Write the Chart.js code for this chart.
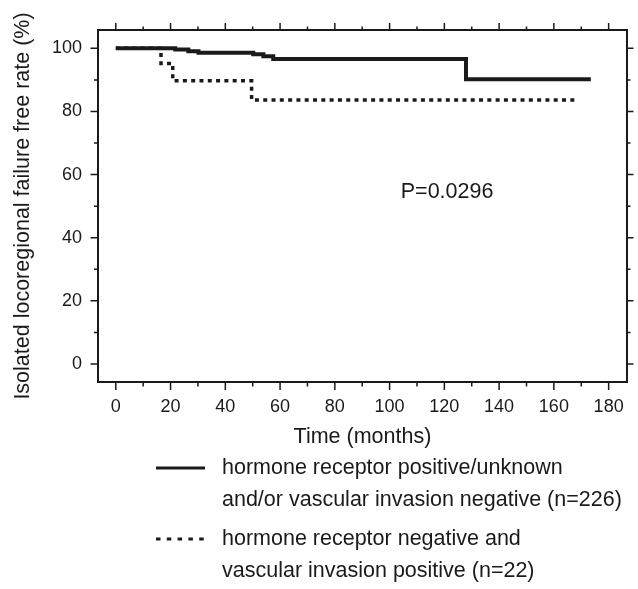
<!DOCTYPE html>
<html>
<head>
<meta charset="utf-8">
<script src="https://cdn.jsdelivr.net/npm/chart.js@4.4.1/dist/chart.umd.min.js"></script>
<style>
    html, body { margin: 0; padding: 0; background: #fff; }
    #wrap { width: 638px; height: 589px; }
</style>
</head>
<body>
<div id="wrap"><canvas id="km" width="638" height="589"></canvas></div>
<script>
// Kaplan-Meier curves (months, %)
const posTimes = [0, 21.7, 26.5, 30.2, 50.2, 53.9, 57.5, 127.9, 173.5];
const posRates = [100, 99.6, 99.1, 98.6, 98.1, 97.5, 96.6, 90.2, 90.2];
const negTimes = [0, 16.5, 20.8, 49.6, 168];
const negRates = [100, 95.2, 89.7, 83.6, 83.6];

const xTicks = [0, 20, 40, 60, 80, 100, 120, 140, 160, 180];
const yTicks = [0, 20, 40, 60, 80, 100];

const posLabel = ['hormone receptor positive/unknown', 'and/or vascular invasion negative (n=226)'];
const negLabel = ['hormone receptor negative and', 'vascular invasion positive (n=22)'];
const pValueText = 'P=0.0296';
const pValueAt = { x: 121, y: 54.5 };

const ink = '#1a1a1a';
const fontFamily = "'Liberation Sans', Arial, Helvetica, sans-serif";
const tickSize = 18;
const textSize = 21.5;

function toPoints(times, rates) {
    return times.map((t, i) => ({ x: t, y: rates[i] }));
}

/**
 * Frame box plus major/minor tick marks on all four sides
 */
const frameTicks = {
    id: 'frameTicks',
    afterDraw(chart) {
        const { ctx, chartArea: a, scales: { x, y } } = chart;
        ctx.save();
        ctx.strokeStyle = ink;
        ctx.lineWidth = 2;
        ctx.strokeRect(a.left, a.top, a.right - a.left, a.bottom - a.top);

        ctx.lineWidth = 1.5;
        ctx.beginPath();
        const xStep = (xTicks[1] - xTicks[0]) / 2;
        for (let v = xTicks[0]; v <= xTicks[xTicks.length - 1]; v += xStep) {
            const px = x.getPixelForValue(v);
            const major = xTicks.includes(v);
            ctx.moveTo(px, a.bottom);
            ctx.lineTo(px, a.bottom + (major ? 8 : 4.5));
            ctx.moveTo(px, a.top);
            ctx.lineTo(px, a.top - (major ? 7 : 3.5));
        }
        const yStep = (yTicks[1] - yTicks[0]) / 2;
        for (let v = yTicks[0]; v <= yTicks[yTicks.length - 1]; v += yStep) {
            const py = y.getPixelForValue(v);
            const major = yTicks.includes(v);
            ctx.moveTo(a.left, py);
            ctx.lineTo(a.left - (major ? 7.5 : 4), py);
            ctx.moveTo(a.right, py);
            ctx.lineTo(a.right + (major ? 6.5 : 3.5), py);
        }
        ctx.stroke();

        // p-value annotation
        ctx.fillStyle = ink;
        ctx.font = textSize + 'px ' + fontFamily;
        ctx.textAlign = 'center';
        ctx.textBaseline = 'middle';
        ctx.fillText(pValueText, x.getPixelForValue(pValueAt.x), y.getPixelForValue(pValueAt.y));
        ctx.restore();
    }
};

/**
 * Two-line legend entries under the x axis title
 */
const stackedLegend = {
    id: 'stackedLegend',
    afterDraw(chart) {
        const { ctx } = chart;
        const rows = [468, 539];
        const lineGap = 32;
        ctx.save();
        ctx.font = textSize + 'px ' + fontFamily;
        ctx.textAlign = 'left';
        ctx.textBaseline = 'middle';
        chart.data.datasets.forEach((ds, i) => {
            const cy = rows[i];
            ctx.strokeStyle = ds.borderColor;
            ctx.lineWidth = 3.2;
            ctx.lineCap = 'butt';
            ctx.setLineDash(ds.legendDash || []);
            ctx.beginPath();
            ctx.moveTo(156, cy);
            ctx.lineTo(205, cy);
            ctx.stroke();
            ctx.setLineDash([]);
            ctx.fillStyle = ink;
            ds.legendLines.forEach((txt, j) => ctx.fillText(txt, 222, cy + j * lineGap));
        });
        ctx.restore();
    }
};

new Chart(document.getElementById('km'), {
    type: 'line',
    data: {
        datasets: [
            {
                label: posLabel.join(' '),
                legendLines: posLabel,
                data: toPoints(posTimes, posRates),
                borderColor: ink,
                borderWidth: 4,
                stepped: 'before',
                pointRadius: 0,
                fill: false
            },
            {
                label: negLabel.join(' '),
                legendLines: negLabel,
                legendDash: [4.5, 6.3],
                data: toPoints(negTimes, negRates),
                borderColor: ink,
                borderWidth: 3.5,
                borderDash: [4, 4.3],
                borderCapStyle: 'butt',
                stepped: 'before',
                pointRadius: 0,
                fill: false
            }
        ]
    },
    options: {
        responsive: false,
        animation: false,
        devicePixelRatio: 1,
        layout: { padding: { top: 30, right: 10, left: 0, bottom: 139 } },
        plugins: {
            legend: { display: false },
            tooltip: { enabled: false }
        },
        scales: {
            x: {
                type: 'linear',
                min: -6.5,
                max: 186.7,
                afterFit: s => { s.height = 68; },
                afterBuildTicks: s => { s.ticks = xTicks.map(v => ({ value: v })); },
                grid: { display: false, drawTicks: false },
                border: { display: false },
                ticks: {
                    padding: 14,
                    color: ink,
                    maxRotation: 0,
                    autoSkip: false,
                    font: { family: fontFamily, size: tickSize }
                },
                title: {
                    display: true,
                    text: 'Time (months)',
                    color: ink,
                    padding: { top: 0, bottom: 0 },
                    font: { family: fontFamily, size: textSize }
                }
            },
            y: {
                min: -5.7,
                max: 105.8,
                afterFit: s => { s.width = 98; },
                afterBuildTicks: s => { s.ticks = yTicks.map(v => ({ value: v })); },
                grid: { display: false, drawTicks: false },
                border: { display: false },
                ticks: {
                    padding: 16,
                    color: ink,
                    font: { family: fontFamily, size: tickSize }
                },
                title: {
                    display: true,
                    text: 'Isolated locoregional failure free rate (%)',
                    color: ink,
                    padding: { top: 10, bottom: 0 },
                    font: { family: fontFamily, size: textSize }
                }
            }
        }
    },
    plugins: [frameTicks, stackedLegend]
});
</script>
</body>
</html>
